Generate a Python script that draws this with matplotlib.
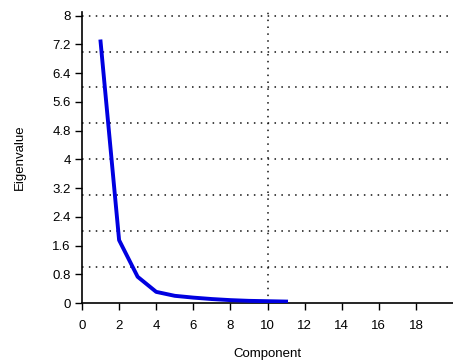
import matplotlib
matplotlib.use("Agg")
import matplotlib.pyplot as plt

# scree plot values
components = [1, 2, 3, 4, 5, 6, 7, 8, 9, 10, 11]
eigenvalues = [7.28, 1.75, 0.73, 0.31, 0.2, 0.15, 0.11, 0.08, 0.06, 0.05, 0.04]

y_ticks = [0, 0.8, 1.6, 2.4, 3.2, 4, 4.8, 5.6, 6.4, 7.2, 8]
y_tick_labels = ["0", "0.8", "1.6", "2.4", "3.2", "4", "4.8", "5.6", "6.4", "7.2", "8"]
x_ticks = [0, 2, 4, 6, 8, 10, 12, 14, 16, 18]

# grid lines sit on their own spacing, not on the tick marks
y_grid = [1, 2, 3, 4, 5, 6, 7, 8]
x_grid = [10]

plt.rcParams['font.family'] = ['Liberation Sans', 'DejaVu Sans']

fig = plt.figure(figsize=(4.53, 3.62), dpi=100)
ax = fig.add_axes([82 / 453, 1 - 303 / 362, 1 - 82 / 453, (303 - 12) / 362])

grid_style = dict(color='#111111', linestyle=(0, (1, 3.5)), linewidth=1.1, zorder=1)
for y in y_grid:
    ax.axhline(y, **grid_style)
for x in x_grid:
    ax.axvline(x, **grid_style)

ax.plot(components, eigenvalues, color='#0000e0', linewidth=2.8,
        solid_joinstyle='round', zorder=3)

ax.set_xlim(0, 20)
ax.set_ylim(0, 8.1)
ax.set_xticks(x_ticks)
ax.set_yticks(y_ticks)
ax.set_yticklabels(y_tick_labels)

ax.tick_params(direction='out', length=5, width=1, labelsize=9.5)
ax.tick_params(axis='x', pad=7)
ax.tick_params(axis='y', pad=3)

for side in ['top', 'right']:
    ax.spines[side].set_visible(False)
for side in ['left', 'bottom']:
    ax.spines[side].set_linewidth(1.2)

ax.set_xlabel('Component', fontsize=9.5, labelpad=12)
ax.set_ylabel('Eigenvalue', fontsize=9.5, labelpad=19)

fig.savefig('out.png', dpi=100)
